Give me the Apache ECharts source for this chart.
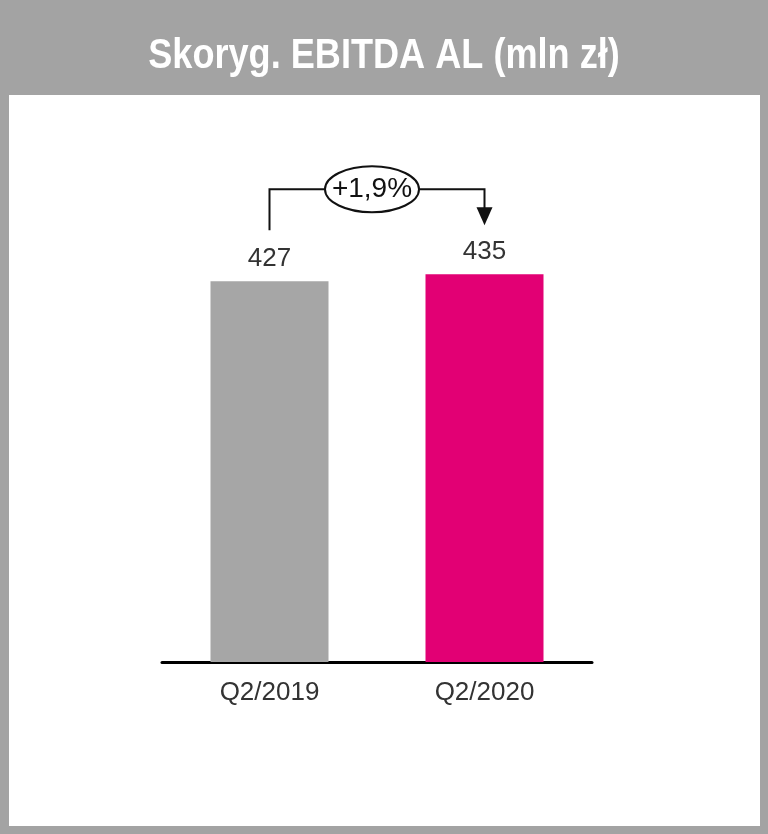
<!DOCTYPE html>
<html>
<head>
<meta charset="utf-8">
<script src="https://cdn.jsdelivr.net/npm/echarts@6/dist/echarts.min.js"></script>
<style>
html,body{margin:0;padding:0;background:#a3a3a3;}
#c{width:768px;height:834px;}
</style>
</head>
<body>
<div id="c"></div>
<script>
const titleText = 'Skoryg. EBITDA AL (mln zł)';
const categories = ['Q2/2019', 'Q2/2020'];
const values = [427, 435];
const barColors = ['#a6a6a6', '#e20074'];
const changeLabel = '+1,9%';

const chart = echarts.init(document.getElementById('c'));
const panel = {id: 'panel', type: 'rect', z: -10, silent: true, shape: {x: 9, y: 95, width: 751, height: 731}, style: {fill: '#ffffff'}};
const titleEl = {id: 'title', type: 'text', z: 20, x: 384, y: 56, scaleX: 0.84, originX: 0, style: {text: titleText, fill: '#ffffff', fontSize: 43, fontWeight: 'bold', fontFamily: '"Liberation Sans", Arial, sans-serif', align: 'center', verticalAlign: 'middle'}};
const option = {
  backgroundColor: '#a3a3a3',
  animation: false,
  grid: {left: 162, right: 176, top: 127, bottom: 172},
  xAxis: {
    type: 'category',
    data: categories,
    axisLine: {lineStyle: {color: '#000', width: 3}},
    axisTick: {show: false},
    axisLabel: {color: '#333', fontSize: 26, margin: 18, fontFamily: '"Liberation Sans", Arial, sans-serif'}
  },
  yAxis: {type: 'value', min: 0, max: 600, show: false},
  series: [{
    type: 'bar',
    barWidth: 118,
    data: values.map((v, i) => ({value: v, itemStyle: {color: barColors[i]}})),
    label: {show: true, position: 'top', distance: 9, color: '#333', fontSize: 26, fontFamily: '"Liberation Sans", Arial, sans-serif'}
  }],
  graphic: {elements: [panel, titleEl]}
};
chart.setOption(option);

const p0 = chart.convertToPixel({seriesIndex: 0}, [0, values[0]]);
const p1 = chart.convertToPixel({seriesIndex: 0}, [1, values[1]]);
const lineY = p0[1] - 92;
const midX = (p0[0] + p1[0]) / 2 - 5;
chart.setOption({graphic: {elements: [
  panel,
  titleEl,
  {id: 'conn', type: 'polyline', z: 10, shape: {points: [[p0[0], p0[1] - 51], [p0[0], lineY], [p1[0], lineY], [p1[0], p1[1] - 64]]}, style: {stroke: '#111', lineWidth: 2, fill: null}},
  {id: 'arrow', type: 'polygon', z: 10, shape: {points: [[p1[0] - 8, p1[1] - 67], [p1[0] + 8, p1[1] - 67], [p1[0], p1[1] - 49]]}, style: {fill: '#111'}},
  {id: 'ell', type: 'ellipse', z: 11, shape: {cx: midX, cy: lineY, rx: 47, ry: 23}, style: {fill: '#fff', stroke: '#111', lineWidth: 2}},
  {id: 'pct', type: 'text', z: 12, x: midX, y: lineY, style: {text: changeLabel, fill: '#111', fontSize: 28, fontFamily: '"Liberation Sans", Arial, sans-serif', align: 'center', verticalAlign: 'middle'}}
]}});
</script>
</body>
</html>
